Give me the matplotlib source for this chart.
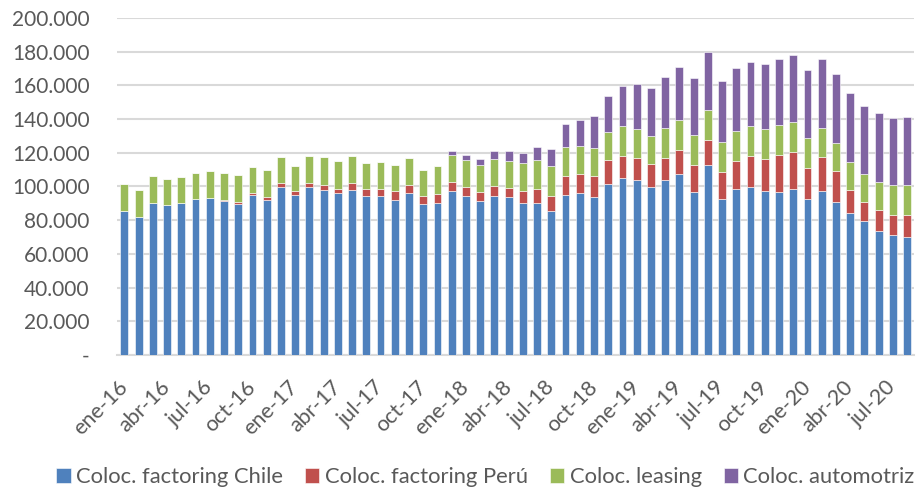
import matplotlib
matplotlib.use("Agg")
import matplotlib.pyplot as plt
from matplotlib.ticker import FuncFormatter, MultipleLocator
import numpy as np

months_es = ["ene", "feb", "mar", "abr", "may", "jun", "jul", "ago", "sep", "oct", "nov", "dic"]
categories = [f"{months_es[m]}-{y}" for y in range(16, 21) for m in range(12)][:56]

chile = [85.6, 81.7, 90.4, 89.2, 90.4, 92.6, 93.2, 91.2, 89.6, 95.1, 92.2, 99.7,
         94.8, 99.5, 97.7, 96.0, 97.9, 94.2, 94.2, 92.2, 96.0, 89.4, 90.4, 97.2,
         94.6, 91.2, 94.4, 93.6, 90.4, 90.0, 85.5, 95.0, 96.0, 93.6, 101.5, 104.9,
         103.9, 99.5, 104.0, 107.6, 96.7, 112.6, 92.4, 98.3, 99.7, 97.5, 96.7, 98.3,
         92.8, 97.2, 91.0, 84.5, 79.7, 73.4, 71.4, 70.2]
peru = [0, 0, 0, 0, 0, 0, 0, 1.0, 1.4, 1.2, 1.8, 2.6,
        2.6, 2.7, 3.2, 2.7, 4.0, 4.2, 4.3, 5.1, 4.9, 4.9, 5.2, 5.7,
        5.3, 5.5, 6.1, 5.7, 7.1, 8.7, 9.1, 11.3, 11.3, 12.7, 14.2, 13.4,
        13.2, 13.7, 12.9, 14.1, 16.2, 15.2, 16.4, 17.0, 18.6, 19.0, 22.1, 22.3,
        18.4, 20.5, 18.0, 13.5, 11.3, 12.8, 11.9, 12.9]
leasing = [15.9, 16.0, 15.7, 15.3, 15.3, 15.6, 16.2, 15.8, 15.7, 15.3, 15.7, 15.4,
           15.0, 15.7, 16.6, 16.4, 16.0, 15.8, 15.8, 15.6, 15.8, 15.4, 16.4, 15.9,
           16.0, 15.9, 15.9, 16.0, 16.3, 16.8, 17.4, 17.0, 16.8, 16.6, 16.5, 17.4,
           17.2, 17.0, 17.8, 17.8, 17.8, 17.6, 17.8, 17.4, 17.6, 17.8, 17.6, 17.8,
           17.6, 17.2, 16.8, 16.4, 16.3, 16.6, 17.5, 17.6]
automotriz = [0, 0, 0, 0, 0, 0, 0, 0, 0, 0, 0, 0,
              0, 0, 0, 0, 0, 0, 0, 0, 0, 0, 0, 2.4,
              2.6, 3.6, 4.7, 5.8, 6.3, 8.1, 10.5, 13.7, 15.6, 18.8, 21.5, 23.9,
              26.5, 28.3, 30.1, 31.5, 33.5, 34.4, 35.8, 37.4, 38.0, 38.6, 39.4, 39.6,
              40.4, 40.6, 40.8, 41.0, 40.5, 40.6, 40.1, 40.4]

series_names = ["Coloc. factoring Chile", "Coloc. factoring Perú", "Coloc. leasing", "Coloc. automotriz"]
colors = ["#4F81BD", "#C0504D", "#9BBB59", "#8064A2"]

plt.rcParams['font.family'] = ['Lato', 'DejaVu Sans']

fig = plt.figure(figsize=(9.16, 4.93), dpi=100)
ax = fig.add_axes([0.128, 0.280, 0.870, 0.6835])

x = np.arange(len(categories))
bottom = np.zeros(len(categories))
for vals, name, c in zip([chile, peru, leasing, automotriz], series_names, colors):
    v = np.array(vals) * 1000
    ax.bar(x, v, bottom=bottom, width=0.55, color=c, label=name,
           edgecolor="#FFFFFF", linewidth=0.4, zorder=3)
    bottom += v

ax.set_xlim(-0.5, len(categories) - 0.5)
ax.set_ylim(0, 200000)
ax.yaxis.set_major_locator(MultipleLocator(20000))

def fmt(v, pos):
    if v == 0:
        return "-"
    return f"{int(v):,}".replace(",", ".")
ax.yaxis.set_major_formatter(FuncFormatter(fmt))

ax.grid(axis="y", color="#D9D9D9", linewidth=1.5, zorder=0)
for s in ["top", "right", "left"]:
    ax.spines[s].set_visible(False)
ax.spines["bottom"].set_color("#D9D9D9")
ax.spines["bottom"].set_linewidth(1.5)

ax.set_xticks(x[::3])
ax.set_xticklabels(categories[::3], rotation=45, ha="right", va="center",
                   rotation_mode="anchor", fontsize=15.5)
ax.tick_params(axis="both", length=0, colors="#595959")
ax.tick_params(axis="y", labelsize=15, pad=20)
ax.tick_params(axis="x", pad=21)

leg = fig.legend(loc="center", bbox_to_anchor=(0.53, 0.032), ncol=4, frameon=False,
                 fontsize=15.8, handlelength=0.65, handleheight=0.65, handletextpad=0.25,
                 columnspacing=1.0)
for t in leg.get_texts():
    t.set_color("#595959")

fig.savefig("out.png", dpi=100)
